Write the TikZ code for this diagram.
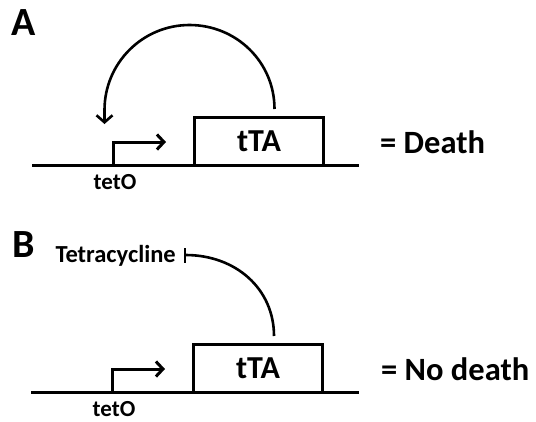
\documentclass[tikz,border=0pt]{standalone}
\usepackage{fontspec}
\setmainfont{Carlito}
\usetikzlibrary{arrows.meta,calc}
\begin{document}
\begin{tikzpicture}[x=1pt,y=-1pt,
  dna/.style={line width=3pt},
  gene/.style={draw, line width=3pt, minimum width=129pt, minimum height=47.5pt,
    inner sep=0pt, font=\bfseries\fontsize{32}{32}\selectfont},
  promoter/.style={line width=3pt, -{Straight Barb[length=7pt,width=15pt]}},
  activate/.style={line width=2.6pt, -{Straight Barb[length=7pt,width=16pt]}},
  repress/.style={line width=2.6pt, -{Bar[width=15pt]}},
  panel/.style={inner sep=0pt, font=\bfseries\fontsize{40}{40}\selectfont},
  outcome/.style={inner sep=0pt, anchor=base west, font=\bfseries\fontsize{32.5}{32.5}\selectfont},
  small/.style={inner sep=0pt, font=\bfseries\fontsize{23}{23}\selectfont},
  drug/.style={inner sep=0pt, font=\bfseries\fontsize{24.5}{24.5}\selectfont}]
\useasboundingbox (0,0) rectangle (536,421);

% ---------- panel A: tTA drives its own promoter ----------
\node[panel, anchor=base west] (labA) at (11,35) {A};
\coordinate (a-left) at (32,165);
\coordinate (a-right) at (359,165);
\draw[dna] (a-left) -- (a-right);
\node[gene] (ttaA) at (259,141.25) {tTA};
\coordinate (a-p0) at (113,165);
\coordinate (a-p1) at (113,142);
\coordinate (a-p2) at (166,142);
\draw[promoter] (a-p0) -- (a-p1) -- (a-p2);
\node[small, anchor=base] (tetoA) at (115,189) {tetO};
\node[outcome] (deathA) at (380,153) {= Death};
\coordinate (a-out) at ($(ttaA.north)+(15.5,-7)$);
\coordinate (a-top) at (189.5,25);
\coordinate (a-side) at (104.5,110);
\coordinate (a-in) at (104.5,124);
\draw[activate] (a-out) .. controls +(0,-46.9) and (236.4,25) .. (a-top)
  .. controls (142.6,25) and (104.5,63.1) .. (a-side) -- (a-in);

% ---------- panel B: tetracycline blocks tTA ----------
\node[panel, anchor=base west] (labB) at (12,257) {B};
\coordinate (b-left) at (31,392);
\coordinate (b-right) at (359,392);
\draw[dna] (b-left) -- (b-right);
\node[gene] (ttaB) at (258,368.25) {tTA};
\coordinate (b-p0) at (112,392);
\coordinate (b-p1) at (112,369);
\coordinate (b-p2) at (165,369);
\draw[promoter] (b-p0) -- (b-p1) -- (b-p2);
\node[small, anchor=base] (tetoB) at (114,416) {tetO};
\node[outcome] (deathB) at (381,380) {= No death};
\node[drug, anchor=base east] (tet) at (176,262) {Tetracycline};
\coordinate (b-out) at ($(ttaB.north)+(16,-7)$);
\coordinate (b-bar) at (183.5,255);
\draw[repress] (b-out) .. controls +(0,-47) and (236,255) .. (b-bar);
\end{tikzpicture}
\end{document}
